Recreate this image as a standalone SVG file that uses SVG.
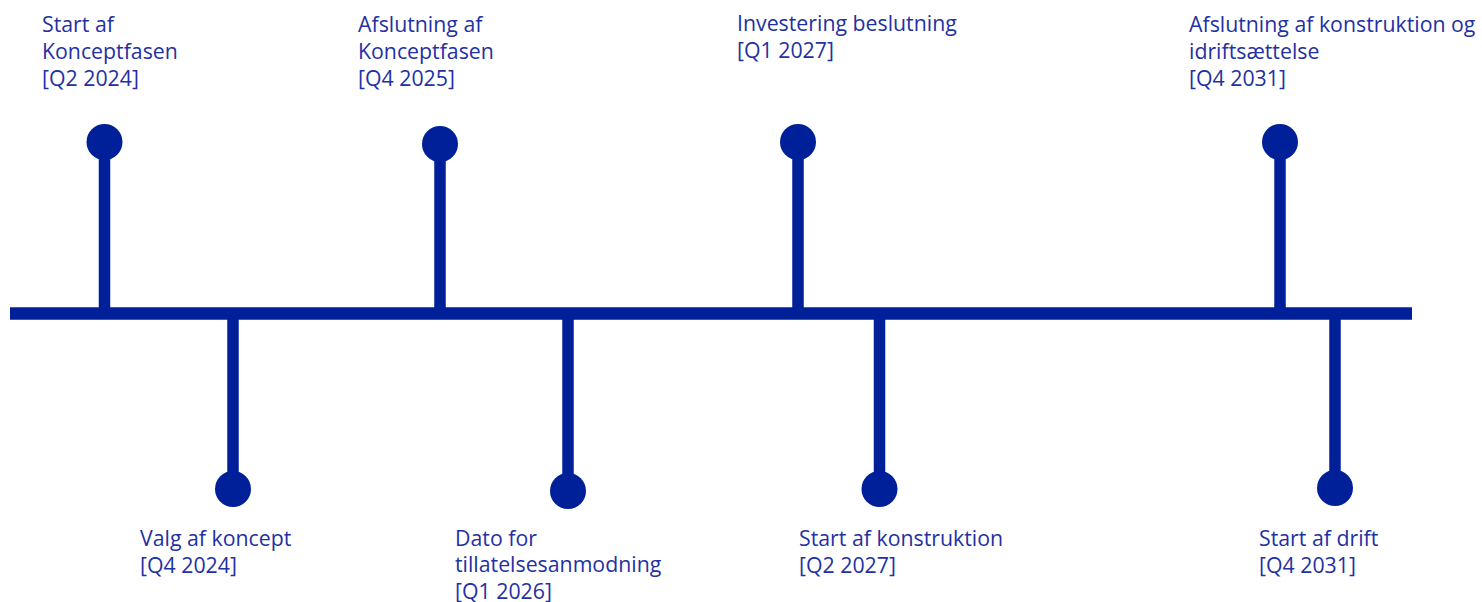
<svg xmlns="http://www.w3.org/2000/svg" width="1482" height="602" viewBox="0 0 1482 602">
  <style>
    .axis { stroke: #00209a; stroke-width: 12.5; fill: none; }
    .stem { stroke: #00209a; stroke-width: 11.5; fill: none; }
    .dot { fill: #00209a; }
    .lbl { font-family: "Open Sans", "Noto Sans", sans-serif; font-size: 21.3px; fill: #1f31a3; }
  </style>
  <rect width="1482" height="602" fill="#ffffff"/>

  <!-- timeline axis and stems -->
  <g id="connectors">
    <line class="axis" x1="10" y1="313.5" x2="1412" y2="313.5"/>
    <line class="stem" x1="104.5" y1="142" x2="104.5" y2="310"/>
    <line class="stem" x1="440" y1="144" x2="440" y2="310"/>
    <line class="stem" x1="798" y1="142" x2="798" y2="310"/>
    <line class="stem" x1="1280" y1="142" x2="1280" y2="310"/>
    <line class="stem" x1="233" y1="317" x2="233" y2="489"/>
    <line class="stem" x1="568" y1="317" x2="568" y2="491"/>
    <line class="stem" x1="879.5" y1="317" x2="879.5" y2="489"/>
    <line class="stem" x1="1335" y1="317" x2="1335" y2="488"/>
  </g>

  <!-- milestones above the axis -->
  <g id="m-start-koncept">
    <circle class="dot" cx="104.5" cy="142" r="18"/>
    <text class="lbl" x="42" y="32">Start af</text>
    <text class="lbl" x="42" y="59">Konceptfasen</text>
    <text class="lbl" x="42" y="86">[Q2 2024]</text>
  </g>
  <g id="m-afslut-koncept">
    <circle class="dot" cx="440" cy="144" r="18"/>
    <text class="lbl" x="358" y="32">Afslutning af</text>
    <text class="lbl" x="358" y="59">Konceptfasen</text>
    <text class="lbl" x="358" y="86">[Q4 2025]</text>
  </g>
  <g id="m-investering">
    <circle class="dot" cx="798" cy="142" r="18"/>
    <text class="lbl" x="737" y="31">Investering beslutning</text>
    <text class="lbl" x="737" y="58">[Q1 2027]</text>
  </g>
  <g id="m-afslut-konstruktion">
    <circle class="dot" cx="1280" cy="142" r="18"/>
    <text class="lbl" x="1189" y="32">Afslutning af konstruktion og</text>
    <text class="lbl" x="1189" y="59">idriftsættelse</text>
    <text class="lbl" x="1189" y="86">[Q4 2031]</text>
  </g>

  <!-- milestones below the axis -->
  <g id="m-valg">
    <circle class="dot" cx="233" cy="489" r="18"/>
    <text class="lbl" x="140" y="546">Valg af koncept</text>
    <text class="lbl" x="140" y="573">[Q4 2024]</text>
  </g>
  <g id="m-tilladelse">
    <circle class="dot" cx="568" cy="491" r="18"/>
    <text class="lbl" x="455" y="546">Dato for</text>
    <text class="lbl" x="455" y="572">tillatelsesanmodning</text>
    <text class="lbl" x="455" y="599">[Q1 2026]</text>
  </g>
  <g id="m-start-konstruktion">
    <circle class="dot" cx="879.5" cy="489" r="18"/>
    <text class="lbl" x="799" y="546">Start af konstruktion</text>
    <text class="lbl" x="799" y="573">[Q2 2027]</text>
  </g>
  <g id="m-drift">
    <circle class="dot" cx="1335" cy="488" r="18"/>
    <text class="lbl" x="1259" y="546">Start af drift</text>
    <text class="lbl" x="1259" y="573">[Q4 2031]</text>
  </g>
</svg>
